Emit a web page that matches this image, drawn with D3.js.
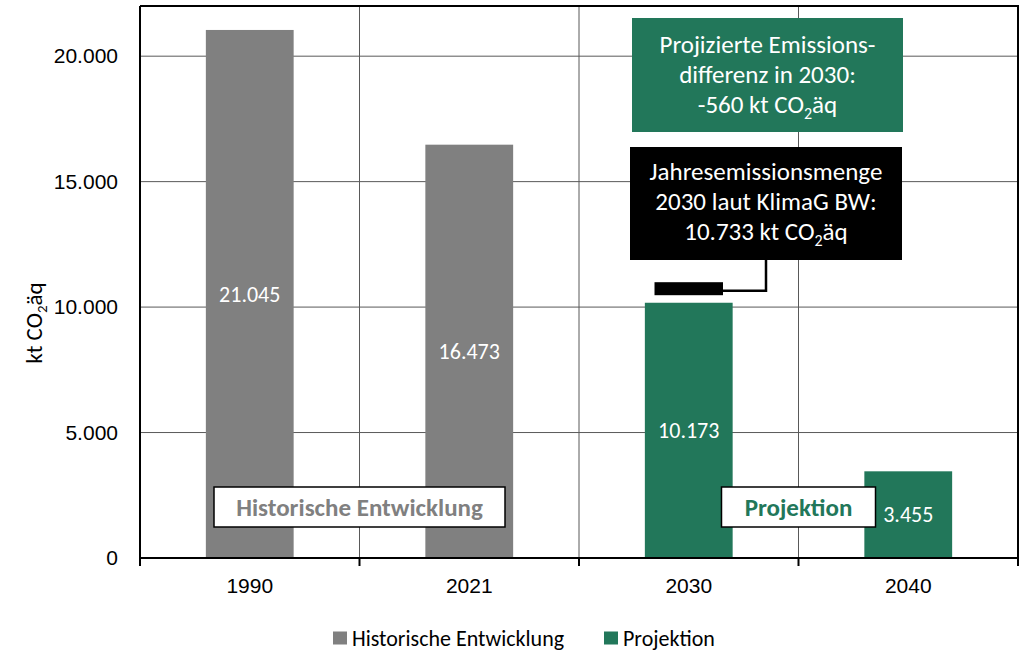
<!DOCTYPE html>
<html>
<head>
<meta charset="utf-8">
<script src="https://cdn.jsdelivr.net/npm/d3@7"></script>
<style>
  body { margin: 0; background: #fff; }
  svg { display: block; font-family: Carlito, Calibri, Lato, sans-serif; }
</style>
</head>
<body>
<div id="chart"></div>
<script>
// data
var categories = ["1990", "2021", "2030", "2040"];
var values = [21045, 16473, 10173, 3455];
var seriesOf = ["Historische Entwicklung", "Historische Entwicklung", "Projektion", "Projektion"];
var seriesNames = ["Historische Entwicklung", "Projektion"];
var target2030 = 10733;
var yTicks = [0, 5000, 10000, 15000, 20000];

var width = 1031, height = 652;
var margin = {left: 140, right: 13, top: 6, bottom: 94};
var colors = {"Historische Entwicklung": "#808080", "Projektion": "#22775A"};
var tickSize = 21, barSize = 22, legendSize = 22, noteSize = 25;

var de = d3.formatLocale({decimal: ",", thousands: ".", grouping: [3], currency: ["", " €"], minus: "-"});
var fmt = de.format(",d");

var svg = d3.select("#chart").append("svg")
    .attr("width", width)
    .attr("height", height);

var x = d3.scaleBand()
    .domain(categories)
    .range([margin.left, width - margin.right])
    .paddingInner(0.6)
    .paddingOuter(0.3);

var y = d3.scaleLinear()
    .domain([0, 22000])
    .range([height - margin.bottom, margin.top]);

var x0 = margin.left, x1 = width - margin.right;
var y0 = y(0), yTop = margin.top;

// gridlines
svg.selectAll(".hgrid")
    .data(yTicks.slice(1))
    .enter().append("line")
    .attr("x1", x0).attr("x2", x1)
    .attr("y1", function(d) { return y(d); })
    .attr("y2", function(d) { return y(d); })
    .attr("stroke", "#595959")
    .attr("stroke-width", 1);

// category boundaries
var bounds = categories.map(function(c, i) { return x0 + i * ((x1 - x0) / categories.length); });
svg.selectAll(".vgrid")
    .data(bounds.slice(1))
    .enter().append("line")
    .attr("x1", function(d) { return d; })
    .attr("x2", function(d) { return d; })
    .attr("y1", yTop).attr("y2", y0)
    .attr("stroke", "#595959")
    .attr("stroke-width", 1);

// bars
svg.selectAll(".bar")
    .data(values)
    .enter().append("rect")
    .attr("x", function(d, i) { return x(categories[i]); })
    .attr("y", function(d) { return y(d); })
    .attr("width", x.bandwidth())
    .attr("height", function(d) { return y(0) - y(d); })
    .attr("fill", function(d, i) { return colors[seriesOf[i]]; });

// bar labels
svg.selectAll(".barlabel")
    .data(values)
    .enter().append("text")
    .attr("x", function(d, i) { return x(categories[i]) + x.bandwidth() / 2; })
    .attr("y", function(d) { return (y(d) + y(0)) / 2; })
    .attr("dy", "0.35em")
    .attr("text-anchor", "middle")
    .attr("fill", "#fff")
    .style("font-size", barSize + "px")
    .text(function(d) { return fmt(d); });

// frame (top and right)
svg.append("path")
    .attr("d", "M" + x0 + "," + yTop + "H" + x1 + "V" + y0)
    .attr("fill", "none")
    .attr("stroke", "#000")
    .attr("stroke-width", 2);

// y axis
var yAxis = svg.append("g")
    .attr("transform", "translate(" + x0 + ",0)")
    .call(d3.axisLeft(y).tickValues(yTicks).tickSize(0).tickPadding(22).tickFormat(fmt));
yAxis.select(".domain").attr("stroke", "#000").attr("stroke-width", 2).attr("d", "M0," + yTop + "V" + y0);
yAxis.selectAll("text").style("font-size", tickSize + "px").attr("fill", "#000").style("font-family", null);

// x axis
var xAxis = svg.append("g")
    .attr("transform", "translate(0," + y0 + ")")
    .call(d3.axisBottom(x).tickSize(0).tickPadding(20));
xAxis.select(".domain").attr("stroke", "#000").attr("stroke-width", 2).attr("d", "M" + x0 + ",0H" + x1);
xAxis.selectAll("text").style("font-size", tickSize + "px").attr("fill", "#000").style("font-family", null);
xAxis.selectAll(".btick")
    .data(bounds.concat([x1]))
    .enter().append("line")
    .attr("x1", function(d) { return d; })
    .attr("x2", function(d) { return d; })
    .attr("y1", 0).attr("y2", 8)
    .attr("stroke", "#000")
    .attr("stroke-width", 2);

// y axis title
var yt = svg.append("text")
    .attr("transform", "translate(42,323) rotate(-90)")
    .attr("text-anchor", "middle")
    .style("font-size", "23px")
    .attr("fill", "#000");
yt.append("tspan").text("kt CO");
yt.append("tspan").text("2").style("font-size", "15px").attr("dy", 5);
yt.append("tspan").text("äq").attr("dy", -5);

// series boxes inside the plot
var seriesBoxes = [
    {name: "Historische Entwicklung", cats: ["1990", "2021"], w: 291},
    {name: "Projektion", cats: ["2030", "2040"], w: 154}
];
seriesBoxes.forEach(function(b) {
    var cx = (x(b.cats[0]) + x(b.cats[1]) + x.bandwidth()) / 2;
    var g = svg.append("g");
    g.append("rect")
        .attr("x", cx - b.w / 2).attr("y", 487)
        .attr("width", b.w).attr("height", 40)
        .attr("fill", "#fff")
        .attr("stroke", "#000")
        .attr("stroke-width", 1.5);
    g.append("text")
        .attr("x", cx).attr("y", 507)
        .attr("dy", "0.35em")
        .attr("text-anchor", "middle")
        .attr("fill", colors[b.name])
        .style("font-size", noteSize + "px")
        .style("font-weight", "bold")
        .text(b.name);
});

// target marker 2030
var xc = x("2030") + x.bandwidth() / 2;
var mw = x.bandwidth() * 0.78;
svg.append("rect")
    .attr("x", xc - mw / 2).attr("y", y(target2030) - 6.5)
    .attr("width", mw).attr("height", 13)
    .attr("fill", "#000");

function co2Line(cx, cy, pre) {
    var t = svg.append("text")
        .attr("x", cx).attr("y", cy)
        .attr("dy", "0.35em")
        .attr("text-anchor", "middle")
        .attr("fill", "#fff")
        .style("font-size", noteSize + "px");
    t.append("tspan").text(pre + " kt CO");
    t.append("tspan").text("2").style("font-size", "16px").attr("dy", 6);
    t.append("tspan").text("äq").attr("dy", -6);
}

function lines(cx, cy, arr) {
    arr.forEach(function(s, i) {
        svg.append("text")
            .attr("x", cx).attr("y", cy + i * 30)
            .attr("dy", "0.35em")
            .attr("text-anchor", "middle")
            .attr("fill", "#fff")
            .style("font-size", noteSize + "px")
            .text(s);
    });
}

// annotation: difference box
var diff = values[2] - target2030;
var gBox = {x: 632, y: 18, w: 271, h: 114};
svg.append("rect")
    .attr("x", gBox.x).attr("y", gBox.y)
    .attr("width", gBox.w).attr("height", gBox.h)
    .attr("fill", colors["Projektion"]);
var gcx = gBox.x + gBox.w / 2;
lines(gcx, 44, ["Projizierte Emissions-", "differenz in 2030:"]);
co2Line(gcx, 104, fmt(diff));

// annotation: target box
var bBox = {x: 630, y: 147, w: 272, h: 113};
svg.append("rect")
    .attr("x", bBox.x).attr("y", bBox.y)
    .attr("width", bBox.w).attr("height", bBox.h)
    .attr("fill", "#000");
var bcx = bBox.x + bBox.w / 2;
lines(bcx, 171, ["Jahresemissionsmenge", "2030 laut KlimaG BW:"]);
co2Line(bcx, 231, fmt(target2030));

// connector
svg.append("path")
    .attr("d", "M766," + (bBox.y + bBox.h) + "V" + (y(target2030) + 2) + "H" + (xc + mw / 2))
    .attr("fill", "none")
    .attr("stroke", "#000")
    .attr("stroke-width", 2.5);

// legend
var legendX = [333, 604];
var legend = svg.selectAll(".legend")
    .data(seriesNames)
    .enter().append("g")
    .attr("transform", function(d, i) { return "translate(" + legendX[i] + ",638)"; });
legend.append("rect")
    .attr("x", 0).attr("y", -6.5)
    .attr("width", 14).attr("height", 13)
    .attr("fill", function(d) { return colors[d]; });
legend.append("text")
    .attr("x", 19).attr("y", 0)
    .attr("dy", "0.35em")
    .attr("fill", "#000")
    .style("font-size", legendSize + "px")
    .text(function(d) { return d; });
</script>
</body>
</html>
